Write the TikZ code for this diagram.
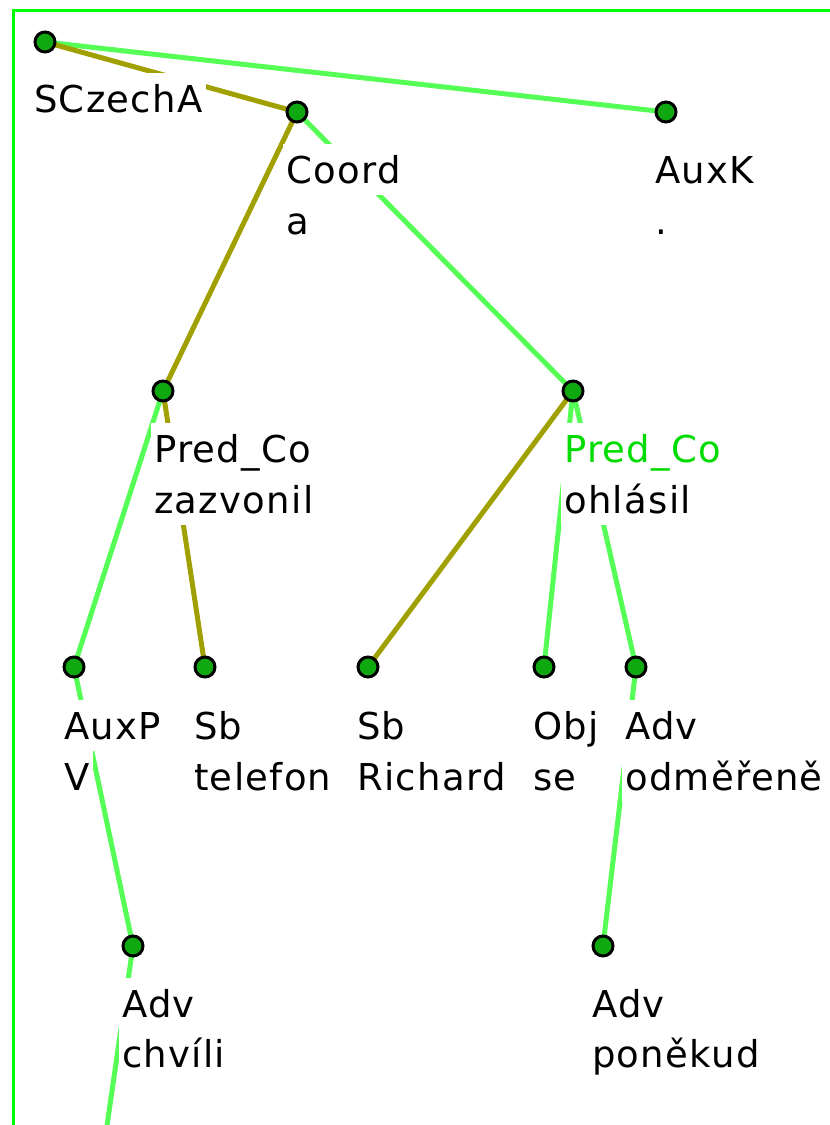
\documentclass[tikz,border=0pt]{standalone}
\usepackage{fontspec}
\setmainfont{DejaVu Sans}[LetterSpace=3.5]
\usetikzlibrary{calc}
\pgfdeclarelayer{edgelayer}
\pgfdeclarelayer{labellayer}
\pgfsetlayers{edgelayer,labellayer,main}
\definecolor{olivelink}{RGB}{160,160,0}
\definecolor{greenlink}{RGB}{85,255,85}
\definecolor{framegreen}{RGB}{0,255,0}
\definecolor{dotfill}{RGB}{16,168,16}
\definecolor{labgreen}{RGB}{0,220,0}
\newcommand{\labfont}{\fontsize{37}{44}\selectfont}
\begin{document}
\begin{tikzpicture}[x=1pt,y=-1pt,
  dot/.style={circle,draw=black,line width=3pt,fill=dotfill,minimum size=20pt,inner sep=0pt},
  lbl/.style={fill=white,anchor=base west,inner xsep=3pt,inner ysep=0pt,text height=39pt,text depth=12pt,font=\labfont},
  olink/.style={draw=olivelink,line width=5pt},
  glink/.style={draw=greenlink,line width=5pt},
  frame/.style={draw=framegreen,line width=3pt}]
\useasboundingbox (0,0) rectangle (830,1125);
\clip (0,0) rectangle (830,1125);
\draw[frame] (13,10) rectangle (900,1200);
% tree nodes
\node[dot] (root) at (45,42) {};
\node[dot] (coord) at (297,112) {};
\node[dot] (auxk) at (666,112) {};
\node[dot] (predl) at (163,391) {};
\node[dot] (predr) at (573,391) {};
\node[dot] (auxp) at (74,667) {};
\node[dot] (sbt) at (205,667) {};
\node[dot] (sbr) at (368,667) {};
\node[dot] (obj) at (544,667) {};
\node[dot] (advo) at (636,667) {};
\node[dot] (advc) at (133,946) {};
\node[dot] (advp) at (603,946) {};
\coordinate (below) at (102,1160);
% edges
\begin{pgfonlayer}{edgelayer}
\draw[glink] (root.center) -- (auxk.center);
\draw[olink] (root.center) -- (coord.center);
\draw[olink] (coord.center) -- (predl.center);
\draw[glink] (coord.center) -- (predr.center);
\draw[glink] (predl.center) -- (auxp.center);
\draw[olink] (predl.center) -- (sbt.center);
\draw[olink] (predr.center) -- (sbr.center);
\draw[glink] (predr.center) -- (obj.center);
\draw[glink] (predr.center) -- (advo.center);
\draw[glink] (auxp.center) -- (advc.center);
\draw[glink] (advc.center) -- (below);
\draw[glink] (advo.center) -- (advp.center);
\end{pgfonlayer}
% labels
\begin{pgfonlayer}{labellayer}
\node[lbl] (rootA) at ($(root)+(-14,70)$) {SCzechA};
\node[lbl] (coordA) at ($(coord)+(-14,71)$) {Coord};
\node[lbl] (coordB) at ($(coord)+(-14,122)$) {a};
\node[lbl] (auxkA) at ($(auxk)+(-14,71)$) {AuxK};
\node[lbl] (auxkB) at ($(auxk)+(-14,122)$) {.};
\node[lbl] (predlA) at ($(predl)+(-12,71)$) {Pred\_Co};
\node[lbl] (predlB) at ($(predl)+(-12,122)$) {zazvonil};
\node[lbl,text=labgreen] (predrA) at ($(predr)+(-12,71)$) {Pred\_Co};
\node[lbl] (predrB) at ($(predr)+(-12,122)$) {ohlásil};
\node[lbl] (auxpA) at ($(auxp)+(-13,72)$) {AuxP};
\node[lbl] (auxpB) at ($(auxp)+(-13,123)$) {V};
\node[lbl] (sbtA) at ($(sbt)+(-14,72)$) {Sb};
\node[lbl] (sbtB) at ($(sbt)+(-14,123)$) {telefon};
\node[lbl] (sbrA) at ($(sbr)+(-14,72)$) {Sb};
\node[lbl] (sbrB) at ($(sbr)+(-14,123)$) {Richard};
\node[lbl] (objA) at ($(obj)+(-14,72)$) {Obj};
\node[lbl] (objB) at ($(obj)+(-14,123)$) {se};
\node[lbl] (advoA) at ($(advo)+(-14,72)$) {Adv};
\node[lbl] (advoB) at ($(advo)+(-14,123)$) {odměřeně};
\node[lbl] (advcA) at ($(advc)+(-14,71)$) {Adv};
\node[lbl] (advcB) at ($(advc)+(-14,121)$) {chvíli};
\node[lbl] (advpA) at ($(advp)+(-14,71)$) {Adv};
\node[lbl] (advpB) at ($(advp)+(-14,121)$) {poněkud};
\end{pgfonlayer}
\end{tikzpicture}
\end{document}
